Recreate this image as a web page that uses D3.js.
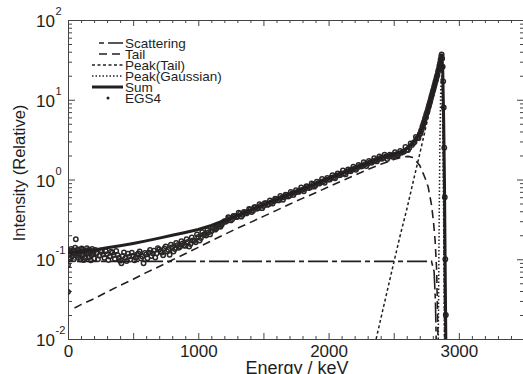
<!DOCTYPE html>
<html>
<head>
<meta charset="utf-8">
<script src="https://cdn.jsdelivr.net/npm/d3@7"></script>
<style>
  body { margin: 0; background: #fff; }
  svg { font-family: "Liberation Sans", Arial, Helvetica, sans-serif; }
  .axis path, .axis line { stroke: #444; stroke-width: 1; }
  .axis text { fill: #1e1e1e; font-size: 17px; font-family: "Liberation Sans", Arial, sans-serif; }
</style>
</head>
<body>
<svg id="chart" width="523" height="374"></svg>
<script>
// --- data (energy in keV, intensity relative) ---
const scatE = [0, 2790, 2810, 2820, 2826];
const scatI = [0.094, 0.094, 0.07, 0.03, 0.01];

const tailE = [50, 100, 200, 300, 400, 500, 600, 700, 800, 900, 1000, 1100, 1200, 1300, 1400, 1500,
  1600, 1700, 1800, 1900, 2000, 2100, 2200, 2300, 2400, 2500, 2560, 2610, 2650, 2700, 2740, 2765,
  2790, 2805, 2818, 2830, 2840];
const tailI = [0.0245, 0.027, 0.032, 0.039, 0.047, 0.056, 0.068, 0.081, 0.098, 0.117, 0.141, 0.17, 0.204,
  0.245, 0.29, 0.345, 0.41, 0.49, 0.58, 0.68, 0.81, 0.96, 1.13, 1.33, 1.55, 1.78, 1.9, 1.95, 1.88,
  1.5, 1.05, 0.8, 0.48, 0.3, 0.17, 0.07, 0.01];

const pkTailE = [2365, 2450, 2500, 2550, 2600, 2650, 2700, 2750, 2800, 2840, 2866, 2872, 2880, 2886, 2890];
const pkTailI = [0.01, 0.04, 0.09, 0.2, 0.42, 0.95, 2.1, 4.8, 10.5, 19, 27, 20, 3, 0.2, 0.01];

const gaussE = [2842, 2848, 2854, 2860, 2866, 2872, 2878, 2884, 2890];
const gaussI = [0.01, 0.2, 2.5, 12, 20, 12, 2.5, 0.2, 0.01];

const sumE = [0, 100, 200, 300, 400, 500, 600, 700, 800, 900, 1000, 1100, 1200, 1300, 1400, 1500, 1600,
  1700, 1800, 1900, 2000, 2100, 2200, 2300, 2400, 2500, 2560, 2620, 2670, 2700, 2730, 2760, 2800,
  2840, 2860, 2868, 2876, 2884, 2890, 2896, 2900];
const sumI = [0.12, 0.125, 0.131, 0.139, 0.148, 0.158, 0.17, 0.184, 0.2, 0.217, 0.236, 0.265, 0.306,
  0.356, 0.415, 0.483, 0.562, 0.655, 0.762, 0.887, 1.03, 1.2, 1.4, 1.62, 1.88, 2.08, 2.22, 2.6, 3.2,
  3.8, 4.9, 7.2, 13, 23, 33, 37.5, 25, 5, 0.8, 0.05, 0.01];

// EGS4 simulated spectrum, [energy, intensity]
const egs = [
  [0,0.039],[0,0.084],[5,0.128],[10,0.115],[15,0.104],[20,0.125],[25,0.135],[30,0.108],[35,0.119],
  [40,0.13],[45,0.1],[50,0.118],[55,0.14],[60,0.178],[65,0.112],[70,0.122],[75,0.133],[80,0.105],
  [85,0.118],[90,0.128],[95,0.099],[100,0.112],[105,0.137],[110,0.132],[115,0.115],[120,0.098],
  [125,0.128],[130,0.125],[135,0.104],[140,0.117],[145,0.138],[150,0.13],[155,0.119],[160,0.106],
  [165,0.131],[170,0.121],[175,0.097],[180,0.112],[185,0.135],[190,0.126],[195,0.116],[200,0.102],
  [210,0.131],[220,0.119],[230,0.1],[240,0.111],[250,0.128],[260,0.124],[270,0.115],[280,0.104],
  [290,0.126],[300,0.116],[310,0.098],[320,0.108],[330,0.124],[340,0.121],[350,0.113],[360,0.101],
  [370,0.127],[380,0.113],[390,0.104],[400,0.096],[410,0.089],[420,0.11],[430,0.122],[440,0.104],
  [450,0.095],[460,0.117],[470,0.108],[480,0.099],[490,0.121],[500,0.111],[510,0.097],[520,0.105],
  [530,0.114],[540,0.118],[550,0.125],[560,0.102],[570,0.108],[580,0.089],[590,0.12],[600,0.115],
  [610,0.103],[620,0.122],[630,0.131],[640,0.11],[650,0.118],[660,0.128],[670,0.105],[680,0.118],
  [690,0.138],[700,0.133],[710,0.126],[720,0.121],[730,0.112],[740,0.137],[750,0.145],[760,0.125],
  [770,0.131],[780,0.114],[790,0.152],[800,0.142],[810,0.125],[820,0.134],[830,0.16],[840,0.15],
  [850,0.139],[860,0.143],[870,0.168],[880,0.158],[890,0.15],[900,0.147],[910,0.178],[920,0.165],
  [930,0.144],[940,0.155],[950,0.188],[960,0.172],[970,0.17],[980,0.163],[990,0.205],[1000,0.19],
  [1010,0.172],[1020,0.185],[1030,0.218],[1040,0.203],[1050,0.206],[1060,0.198],[1070,0.232],
  [1080,0.218],[1090,0.205],[1100,0.225],[1110,0.25],[1120,0.24],[1130,0.235],[1140,0.245],
  [1150,0.27],[1160,0.26],[1170,0.255],[1180,0.27],[1190,0.29],
  [1200,0.30],[1210,0.295],[1220,0.305],[1230,0.336],[1240,0.33],[1250,0.307],[1260,0.318],[1270,0.35],
  [1280,0.35],[1290,0.337],[1300,0.34],[1310,0.383],[1320,0.372],[1330,0.342],[1340,0.36],[1350,0.392],
  [1360,0.385],[1370,0.376],[1380,0.39],[1390,0.428],[1400,0.42],[1410,0.392],[1420,0.405],[1430,0.451],
  [1440,0.45],[1450,0.429],[1460,0.44],[1470,0.489],[1480,0.47],[1490,0.437],[1500,0.465],[1510,0.505],
  [1520,0.505],[1530,0.48],[1540,0.49],[1550,0.547],[1560,0.52],[1570,0.499],[1580,0.535],[1590,0.575],
  [1600,0.57],[1610,0.547],[1620,0.55],[1630,0.623],[1640,0.59],[1650,0.558],[1660,0.6],[1670,0.644],
  [1680,0.64],[1690,0.613],[1700,0.625],[1710,0.698],[1720,0.67],[1730,0.637],[1740,0.68],[1750,0.734],
  [1760,0.70],[1770,0.699],[1780,0.73],[1790,0.796],[1800,0.745],[1810,0.712],[1820,0.77],[1830,0.822],
  [1840,0.81],[1850,0.781],[1860,0.80],[1870,0.89],[1880,0.86],[1890,0.813],[1900,0.85],[1910,0.937],
  [1920,0.9],[1930,0.892],[1940,0.93],[1950,1.014],[1960,0.95],[1970,0.908],[1980,0.99],[1990,1.048],
  [2000,1.0],[2010,0.997],[2020,1.05],[2030,1.135],[2040,1.07],[2050,1.037],[2060,1.12],[2070,1.195],
  [2080,1.13],[2090,1.138],[2100,1.19],[2110,1.294],[2120,1.2],[2130,1.158],[2140,1.26],[2150,1.337],
  [2160,1.29],[2170,1.271],[2180,1.33],[2190,1.448],[2200,1.38],[2210,1.322],[2220,1.4],[2230,1.525],
  [2240,1.47],[2250,1.451],[2260,1.48],[2270,1.651],[2280,1.55],[2290,1.478],[2300,1.58],[2310,1.705],
  [2320,1.65],[2330,1.622],[2340,1.68],[2350,1.847],[2360,1.74],[2370,1.686],[2380,1.78],[2390,1.945],
  [2400,1.86],[2410,1.824],[2420,1.88],[2430,2.046],[2440,1.95],[2450,1.803],[2460,1.93],[2470,2.05],
  [2480,2.0],[2490,1.929],[2500,2.02],[2510,2.195],[2520,2.08],[2530,2.0],[2540,2.1],[2550,2.288],
  [2560,2.17],[2570,2.208],[2580,2.25],[2590,2.565],[2600,2.35],[2610,2.346],[2620,2.5],[2630,2.833],
  [2640,2.7],[2650,2.85],[2660,2.95],[2670,3.41],[2680,3.3],[2690,3.3],[2700,3.7],[2705,3.8],
  [2710,4.1],[2715,4.2],[2720,4.6],[2725,4.8],[2730,5.1],[2735,5.4],[2740,5.8],[2745,6.1],[2750,6.6],
  [2755,6.9],[2760,7.3],[2765,7.9],[2770,8.4],[2775,9.0],[2780,9.6],[2785,10.3],[2790,11.1],
  [2795,11.8],[2800,12.7],[2805,13.5],[2810,14.6],[2815,15.5],[2820,16.8],[2825,17.8],[2830,19.3],
  [2835,20.5],[2840,22.5],[2845,24],[2850,26.5],[2855,29],[2860,32],[2865,35],[2868,37],[2872,33],
  [2876,26],[2880,17],[2884,8],[2888,2.5],[2892,0.6],[2896,0.1],[2900,0.02]
];

const xLabels = [0, 1000, 2000, 3000];
const decades = [0.01, 0.1, 1, 10, 100];
const decadeExp = ["-2", "-1", "0", "1", "2"];
const legendNames = ["Scattering", "Tail", "Peak(Tail)", "Peak(Gaussian)", "Sum", "EGS4"];

// --- layout ---
let svg = d3.select("svg#chart");
let ink = "#231f20";
let textInk = "#1e1e1e";
let margin = { left: 68, right: 524, top: 20, bottom: 339 };

let x = d3.scaleLinear().domain([0, 3500]).range([margin.left, margin.right]);
let y = d3.scaleLog().domain([0.01, 100]).range([margin.bottom, margin.top]);

// minor values for log axis
let minorY = [];
decades.slice(0, 4).forEach(d => { for (let k = 2; k <= 9; k++) minorY.push(d * k); });
let minorX = d3.range(0, 3501, 100).filter(v => v % 500 != 0);
let majorX = d3.range(0, 3501, 500);

// axes (ticks point inward)
svg.append("g").attr("class", "axis").attr("transform", "translate(0," + margin.bottom + ")")
  .call(d3.axisBottom(x).tickValues(majorX).tickSize(-6).tickPadding(6)
    .tickFormat(d => xLabels.includes(d) ? d : ""));
svg.append("g").attr("class", "axis").attr("transform", "translate(0," + margin.bottom + ")")
  .call(d3.axisBottom(x).tickValues(minorX).tickSize(-3).tickFormat(""));
svg.append("g").attr("class", "axis").attr("transform", "translate(0," + margin.top + ")")
  .call(d3.axisTop(x).tickValues(majorX).tickSize(-6).tickFormat(""));
svg.append("g").attr("class", "axis").attr("transform", "translate(0," + margin.top + ")")
  .call(d3.axisTop(x).tickValues(minorX).tickSize(-3).tickFormat(""));

svg.append("g").attr("class", "axis").attr("transform", "translate(" + margin.left + ",0)")
  .call(d3.axisLeft(y).tickValues(decades).tickSize(-7).tickFormat(""));
svg.append("g").attr("class", "axis").attr("transform", "translate(" + margin.left + ",0)")
  .call(d3.axisLeft(y).tickValues(minorY).tickSize(-4).tickFormat(""));
svg.append("g").attr("class", "axis").attr("transform", "translate(" + margin.right + ",0)")
  .call(d3.axisRight(y).tickValues(decades).tickSize(-7).tickFormat(""));
svg.append("g").attr("class", "axis").attr("transform", "translate(" + margin.right + ",0)")
  .call(d3.axisRight(y).tickValues(minorY).tickSize(-4).tickFormat(""));

// y tick labels as 10^n
decades.forEach((d, i) => {
  svg.append("text").attr("x", 55).attr("y", y(d) + 7)
    .attr("text-anchor", "end").attr("font-size", 17).attr("fill", textInk).text("10");
  svg.append("text").attr("x", 55.5).attr("y", y(d) - 5)
    .attr("font-size", 11).attr("fill", textInk).text(decadeExp[i]);
});

// axis titles
svg.append("text").attr("x", 297).attr("y", 374).attr("text-anchor", "middle")
  .attr("font-size", 18).attr("fill", textInk).text("Energy / keV");
svg.append("text").attr("transform", "translate(25,173) rotate(-90)").attr("text-anchor", "middle")
  .attr("font-size", 16.5).attr("fill", textInk).text("Intensity (Relative)");

// plot area
svg.append("clipPath").attr("id", "clip").append("rect")
  .attr("x", margin.left).attr("y", margin.top)
  .attr("width", margin.right - margin.left).attr("height", margin.bottom - margin.top);
let plot = svg.append("g").attr("clip-path", "url(#clip)");

let line = d3.line().x(d => x(d[0])).y(d => y(Math.max(d[1], 0.008)));
let zip = (a, b) => a.map((v, i) => [v, b[i]]);

// EGS4 points
plot.selectAll("circle.egs").data(egs).enter().append("circle")
  .attr("class", "egs")
  .attr("cx", d => x(d[0])).attr("cy", d => y(d[1])).attr("r", 2.2)
  .attr("fill", "none").attr("stroke", "#2a2626").attr("stroke-width", 1.5);

let styles = [
  { data: zip(scatE, scatI), dash: "5,4,20,4", w: 1.6 },
  { data: zip(tailE, tailI), dash: "8,5", w: 1.6 },
  { data: zip(pkTailE, pkTailI), dash: "3,2.5", w: 1.5 },
  { data: zip(gaussE, gaussI), dash: "1.5,2", w: 1.5 },
  { data: zip(sumE, sumI), dash: null, w: 3 }
];
styles.forEach(s => {
  plot.append("path").datum(s.data).attr("d", line)
    .attr("fill", "none").attr("stroke", ink).attr("stroke-width", s.w)
    .attr("stroke-dasharray", s.dash);
});

// legend
let legX0 = [99, 99, 92, 92, 92];
legendNames.forEach((name, i) => {
  let by = 48 + i * 11;
  svg.append("text").attr("x", 125).attr("y", by).attr("font-size", 13.5)
    .attr("fill", textInk).text(name);
  if (i < 5) {
    svg.append("line").attr("x1", legX0[i]).attr("x2", 123).attr("y1", by - 5).attr("y2", by - 5)
      .attr("stroke", ink).attr("stroke-width", styles[i].w).attr("stroke-dasharray", styles[i].dash);
  } else {
    svg.append("circle").attr("cx", 108).attr("cy", by - 5).attr("r", 1.5).attr("fill", ink);
  }
});
</script>
</body>
</html>
